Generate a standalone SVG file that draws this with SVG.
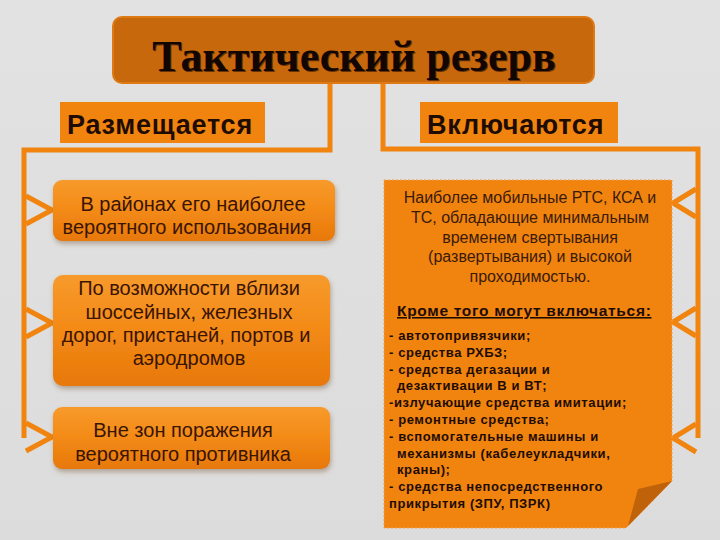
<svg xmlns="http://www.w3.org/2000/svg" width="720" height="540" viewBox="0 0 720 540">
<defs>
<linearGradient id="bg" x1="0" y1="0" x2="0" y2="1">
<stop offset="0" stop-color="#e2e2e2"/>
<stop offset="1" stop-color="#dcdcdc"/>
</linearGradient>
<linearGradient id="boxg" x1="0" y1="0" x2="0" y2="1">
<stop offset="0" stop-color="#f79a2c"/>
<stop offset="0.5" stop-color="#f38a16"/>
<stop offset="1" stop-color="#e7780a"/>
</linearGradient>
<filter id="sh" x="-10%" y="-20%" width="120%" height="150%">
<feDropShadow dx="1" dy="3" stdDeviation="2.5" flood-color="#7a5a3a" flood-opacity="0.45"/>
</filter>
<style>
.conn{fill:none;stroke:#f0840f;stroke-width:5}
.chev{fill:none;stroke:#f0840f;stroke-width:5;stroke-linejoin:miter}
.lbl{fill:#f0840f}
.lbltxt{font-family:"Liberation Sans",Arial,sans-serif;font-weight:bold;font-size:27px;letter-spacing:0.8px;fill:#1e0c02}
.box{fill:url(#boxg);filter:url(#sh)}
.bt{font-family:"Liberation Sans",Arial,sans-serif;font-size:20px;fill:#3a1404;text-anchor:middle}
.rt{font-family:"Liberation Sans",Arial,sans-serif;font-size:16px;fill:#3a1a08;text-anchor:middle}
.lt{font-family:"Liberation Sans",Arial,sans-serif;font-size:13px;font-weight:bold;fill:#1e0c02;letter-spacing:0.6px}
</style>
</defs>
<rect width="720" height="540" fill="url(#bg)"/>

<g id="connectors">
<path class="conn" d="M330,82 V150 H24 V438"/>
<path class="conn" d="M383,82 V149 H698 V438"/>
<polyline class="chev" points="26,196 52,210 26,224"/>
<polyline class="chev" points="26,309 52,323 26,337"/>
<polyline class="chev" points="26,423 52,437 26,451"/>
<polyline class="chev" points="696,189 673,203 696,217"/>
<polyline class="chev" points="696,308 673,322 696,336"/>
<polyline class="chev" points="696,424 673,438 696,452"/>
</g>

<g id="title">
<rect x="113" y="17" width="481" height="66" rx="9" fill="#c8680c" stroke="#de7a14" stroke-width="2"/>
<text x="354" y="71" text-anchor="middle" font-family="'Liberation Serif','Times New Roman',serif" font-weight="bold" font-size="44" fill="#6a3208" dx="1" dy="1">Тактический резерв</text>
<text x="354" y="71" text-anchor="middle" font-family="'Liberation Serif','Times New Roman',serif" font-weight="bold" font-size="44" fill="#120602">Тактический резерв</text>
</g>

<g id="label-left">
<rect class="lbl" x="60" y="102" width="205" height="41"/>
<text class="lbltxt" x="67" y="134">Размещается</text>
</g>

<g id="label-right">
<rect class="lbl" x="420" y="102" width="198" height="41"/>
<text class="lbltxt" x="427" y="134">Включаются</text>
</g>

<g id="left-box-1">
<rect class="box" x="53" y="180" width="282" height="61" rx="9"/>
<text class="bt" x="193" y="211">В районах его наиболее</text>
<text class="bt" x="187" y="234">вероятного использования</text>
</g>

<g id="left-box-2">
<rect class="box" x="53" y="275" width="277" height="111" rx="10"/>
<text class="bt" x="189" y="295">По возможности вблизи</text>
<text class="bt" x="189" y="318.5">шоссейных, железных</text>
<text class="bt" x="186" y="342">дорог, пристаней, портов и</text>
<text class="bt" x="189" y="365">аэродромов</text>
</g>

<g id="left-box-3">
<rect class="box" x="53" y="407" width="277" height="62" rx="9"/>
<text class="bt" x="183" y="437">Вне зон поражения</text>
<text class="bt" x="183" y="461">вероятного противника</text>
</g>

<g id="right-box">
<path d="M384,180 H672 V481 L626,528 H384 Z" fill="#f0840f" stroke="#f3a050" stroke-width="1" stroke-dasharray="2 2"/>
<path d="M672,481 L638,489 L628,526 Z" fill="#c0620a"/>
<text class="rt" x="530" y="203">Наиболее мобильные РТС, КСА и</text>
<text class="rt" x="530" y="223">ТС, обладающие минимальным</text>
<text class="rt" x="530" y="243">временем свертывания</text>
<text class="rt" x="530" y="262">(развертывания) и высокой</text>
<text class="rt" x="530" y="282">проходимостью.</text>
<text x="397" y="316" font-family="'Liberation Sans',Arial,sans-serif" font-weight="bold" font-size="15.5px" letter-spacing="0.7" fill="#1e0c02" text-decoration="underline">Кроме того могут включаться:</text>
<text class="lt" x="389" y="340">- автотопривязчики;</text>
<text class="lt" x="389" y="356.8">- средства РХБЗ;</text>
<text class="lt" x="389" y="373.6">- средства дегазации и</text>
<text class="lt" x="397" y="390.4">дезактивации В и ВТ;</text>
<text class="lt" x="389" y="407.2">-излучающие средства имитации;</text>
<text class="lt" x="389" y="424">- ремонтные средства;</text>
<text class="lt" x="389" y="440.8">- вспомогательные машины и</text>
<text class="lt" x="397" y="457.6">механизмы (кабелеукладчики,</text>
<text class="lt" x="397" y="474.4">краны);</text>
<text class="lt" x="389" y="491.2">- средства непосредственного</text>
<text class="lt" x="389" y="508">прикрытия (ЗПУ, ПЗРК)</text>
</g>
</svg>
